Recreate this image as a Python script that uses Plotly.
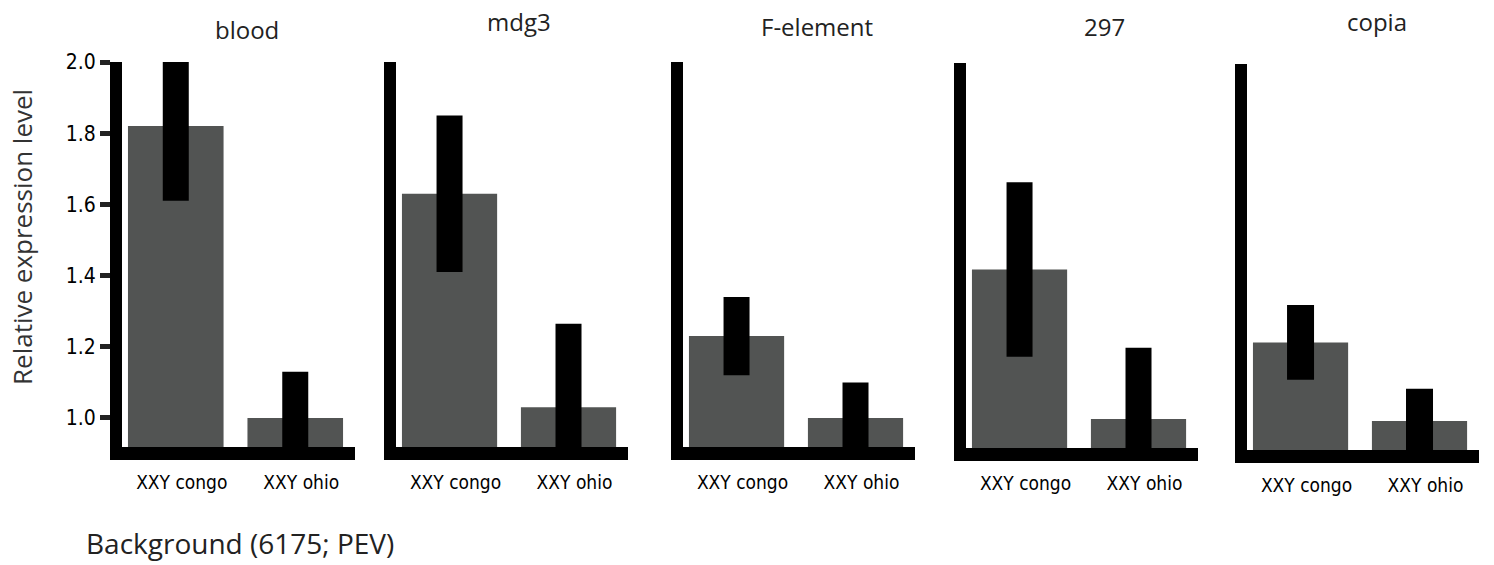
import plotly.graph_objects as go

W, H = 1494, 565

categories = ["XXY congo", "XXY ohio"]
panel_titles = ["blood", "mdg3", "F-element", "297", "copia"]
means = [
    [1.82, 1.00],
    [1.63, 1.03],
    [1.23, 1.00],
    [1.42, 1.00],
    [1.22, 1.00],
]
errors = [
    [0.21, 0.13],
    [0.22, 0.235],
    [0.11, 0.10],
    [0.245, 0.20],
    [0.105, 0.09],
]
y_tickvals = [1.0, 1.2, 1.4, 1.6, 1.8, 2.0]
y_ticktext = ["1.0", "1.2", "1.4", "1.6", "1.8", "2.0"]
y_range = [0.9185, 2.0]

# plot-area pixel boxes (left, right, top, bottom)
boxes = [
    (122, 355, 62, 447),
    (396, 628, 62, 447),
    (683, 915, 62, 447),
    (966, 1198, 63, 448),
    (1247, 1479, 64, 450),
]
title_pos = [(247, 30), (519, 21), (817, 27), (1104, 27), (1377, 21)]
err_thick = [26, 26, 26, 26, 27]

BAR_COLOR = "#525453"
narrow = "DejaVu Sans Condensed, Liberation Sans Narrow, sans-serif"
sans = "Open Sans, Noto Sans, sans-serif"

fig = go.Figure()
layout = dict(
    width=W, height=H,
    margin=dict(l=0, r=0, t=0, b=0, autoexpand=False),
    paper_bgcolor="white", plot_bgcolor="white",
    showlegend=False,
    bargap=0.2,
)

for i in range(5):
    k = "" if i == 0 else str(i + 1)
    l, r, t, b = boxes[i]
    fig.add_trace(go.Bar(
        x=categories, y=means[i],
        xaxis="x" + k, yaxis="y" + k,
        marker=dict(color=BAR_COLOR, line=dict(width=0)),
        error_y=dict(type="data", array=errors[i], thickness=err_thick[i],
                     width=0, color="black"),
        width=0.8,
        hoverinfo="skip",
    ))
    layout["xaxis" + k] = dict(
        domain=[l / W, r / W], anchor="y" + k,
        type="category", range=[-0.45, 1.5],
        showline=True, linewidth=13, linecolor="black",
        ticks="", showgrid=False, zeroline=False, automargin=False,
        tickfont=dict(family=narrow, size=19, color="black"),
        ticklabelshift=6,
        ticklabelstandoff=6,
    )
    ya = dict(
        domain=[1 - b / H, 1 - t / H], anchor="x" + k,
        range=y_range, automargin=False,
        showline=True, linewidth=12, linecolor="black",
        showgrid=False, zeroline=False,
    )
    if i == 0:
        ya.update(ticks="outside", ticklen=10, tickwidth=5, tickcolor="#222222",
                  tickvals=y_tickvals, ticktext=y_ticktext,
                  tickfont=dict(family=narrow, size=21, color="black"))
    else:
        ya.update(ticks="", showticklabels=False)
    layout["yaxis" + k] = ya

annotations = []
for i in range(5):
    x, y = title_pos[i]
    annotations.append(dict(
        text=panel_titles[i], x=x / W, y=1 - y / H, xref="paper", yref="paper",
        xanchor="center", yanchor="middle", showarrow=False,
        font=dict(family=sans, size=24, color="#222222"),
    ))
annotations.append(dict(
    text="Relative expression level", x=22 / W, y=1 - 237 / H,
    xref="paper", yref="paper", xanchor="center", yanchor="middle",
    textangle=-90, showarrow=False,
    font=dict(family=sans, size=26, color="#333333"),
))
annotations.append(dict(
    text="Background (6175; PEV)", x=84 / W, y=1 - 543 / H,
    xref="paper", yref="paper", xanchor="left", yanchor="middle",
    showarrow=False,
    font=dict(family=sans, size=28, color="#222222"),
))
layout["annotations"] = annotations

fig.update_layout(**layout)
fig.write_html("out.html")
